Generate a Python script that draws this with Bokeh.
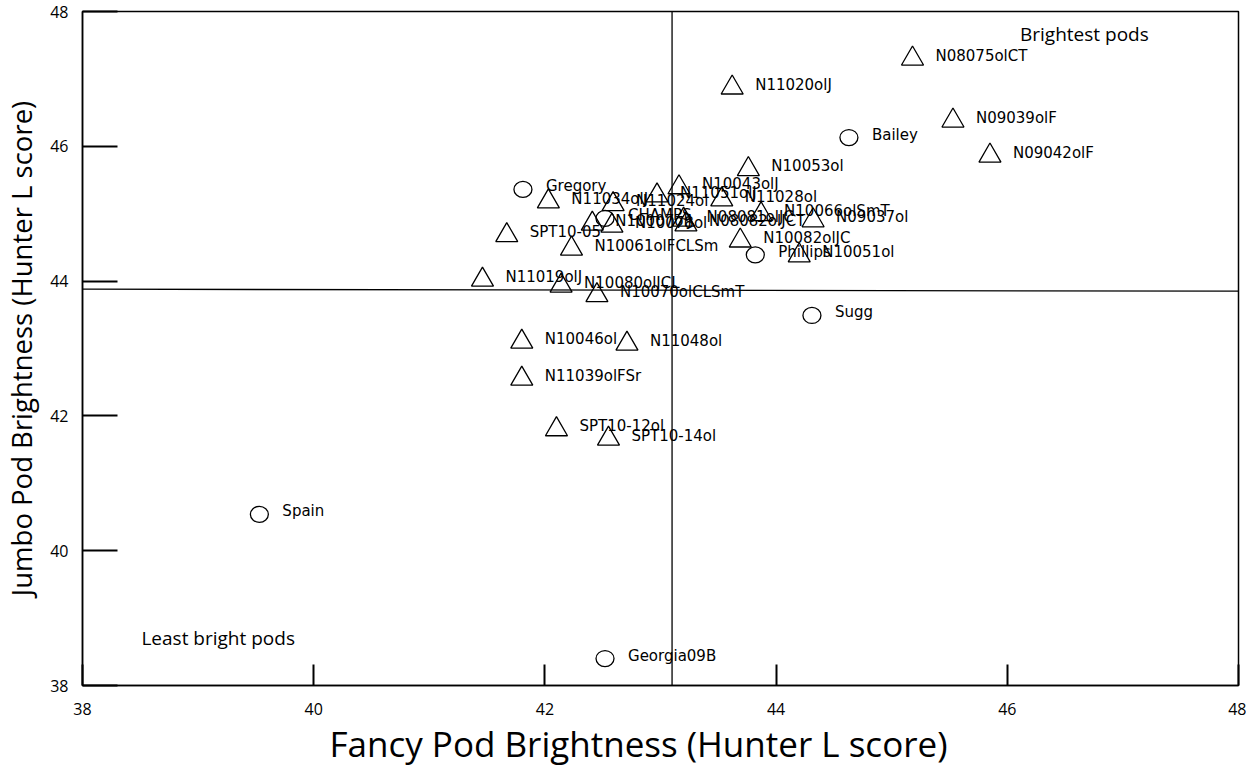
from bokeh.plotting import figure
from bokeh.models import ColumnDataSource, Label, Title
from bokeh.core.properties import value
from bokeh.embed import file_html
from bokeh.resources import INLINE

# Breeding lines (triangles)
line_names = ["N08075olCT", "N11020olJ", "N09039olF", "N09042olF", "N10053ol",
              "N10043olJ", "N11051olJ", "N11028ol", "N11024ol", "N11034olJ",
              "N10066olSmT", "N09037ol", "N08081olJC", "N08082olJCT", "N10007olJ",
              "N10078ol", "SPT10-05", "N10061olFCLSm", "N10082olJC", "N10051ol",
              "N11019olJ", "N10080olJCL", "N10070olCLSmT", "N10046ol", "N11048ol",
              "N11039olFSr", "SPT10-12ol", "SPT10-14ol"]
line_fancy = [45.18, 43.62, 45.53, 45.85, 43.76,
              43.16, 42.97, 43.53, 42.59, 42.03,
              43.87, 44.32, 43.20, 43.22, 42.41,
              42.58, 41.67, 42.23, 43.69, 44.20,
              41.46, 42.14, 42.45, 41.80, 42.71,
              41.80, 42.10, 42.55]
line_jumbo = [47.30, 46.87, 46.38, 45.86, 45.66,
              45.39, 45.27, 45.21, 45.14, 45.18,
              44.99, 44.90, 44.91, 44.84, 44.85,
              44.82, 44.68, 44.48, 44.60, 44.38,
              44.02, 43.93, 43.79, 43.10, 43.07,
              42.55, 41.80, 41.66]

# Cultivars (circles)
cult_names = ["Bailey", "Gregory", "CHAMPS", "Phillips", "Sugg", "Spain", "Georgia09B"]
cult_fancy = [44.63, 41.81, 42.52, 43.82, 44.31, 39.53, 42.52]
cult_jumbo = [46.13, 45.36, 44.93, 44.39, 43.49, 40.54, 38.40]

# Mean reference lines
mean_fancy = 43.10
mean_jumbo_x = [38, 48]
mean_jumbo_y = [43.88, 43.85]

ticks = [38, 40, 42, 44, 46, 48]

p = figure(frame_width=1156, frame_height=674, x_range=(38, 48), y_range=(38, 48),
           output_backend="svg", toolbar_location=None,
           min_border_left=70, min_border_top=11, min_border_right=8, min_border_bottom=2)
p.grid.visible = False
p.outline_line_color = "black"
p.outline_line_width = 1.5

for ax in (p.xaxis[0], p.yaxis[0]):
    ax.ticker = ticks
    ax.minor_tick_line_color = None
    ax.major_tick_out = 0
    ax.axis_line_color = "black"
    ax.axis_line_width = 1.5
    ax.major_tick_line_width = 2
    ax.major_tick_line_color = "black"
    ax.major_label_text_font = "Open Sans"
    ax.major_label_text_font_size = "16px"
    ax.major_label_text_color = "black"
    ax.axis_label_text_font = "Open Sans"
    ax.axis_label_text_font_style = "normal"
    ax.axis_label_text_color = "black"

p.xaxis.major_tick_in = 21
p.yaxis.major_tick_in = 35
p.yaxis.axis_label = "Jumbo Pod Brightness (Hunter L score)"
p.yaxis.axis_label_text_font_size = "27.5px"
p.xaxis.major_label_standoff = 17
p.yaxis.major_label_standoff = 14
p.yaxis.axis_label_standoff = 7

p.add_layout(Title(text="Fancy Pod Brightness (Hunter L score)", align="left", offset=247,
                   text_font="Open Sans", text_font_size="35px", text_font_style="normal",
                   text_color="black", standoff=0), "below")

# reference lines
p.segment(x0=[mean_fancy], y0=[38], x1=[mean_fancy], y1=[48], line_color="black", line_width=1.3)
p.line(mean_jumbo_x, mean_jumbo_y, line_color="black", line_width=1.3)

src_l = ColumnDataSource(dict(x=line_fancy, y=line_jumbo, t=line_names))
src_c = ColumnDataSource(dict(x=cult_fancy, y=cult_jumbo, t=cult_names))

p.scatter("x", "y", source=src_l, marker="triangle", size=22,
          fill_color=None, line_color="black", line_width=1.3)
p.ellipse("x", "y", source=src_c, width=18, height=16, width_units="screen", height_units="screen",
          fill_color=None, line_color="black", line_width=1.3)

for src in (src_l, src_c):
    p.text("x", "y", text="t", source=src, x_offset=23, y_offset=-3,
           text_font=value("DejaVu Sans"), text_font_size="15px",
           text_baseline="middle", text_align="left", text_color="black")

p.add_layout(Label(x=46.11, y=47.67, text="Brightest pods", text_font="Open Sans",
                   text_font_size="19px", text_baseline="middle", text_color="black"))
p.add_layout(Label(x=38.51, y=38.70, text="Least bright pods", text_font="Open Sans",
                   text_font_size="19px", text_baseline="middle", text_color="black"))

open("out.html", "w").write(file_html(p, INLINE))
